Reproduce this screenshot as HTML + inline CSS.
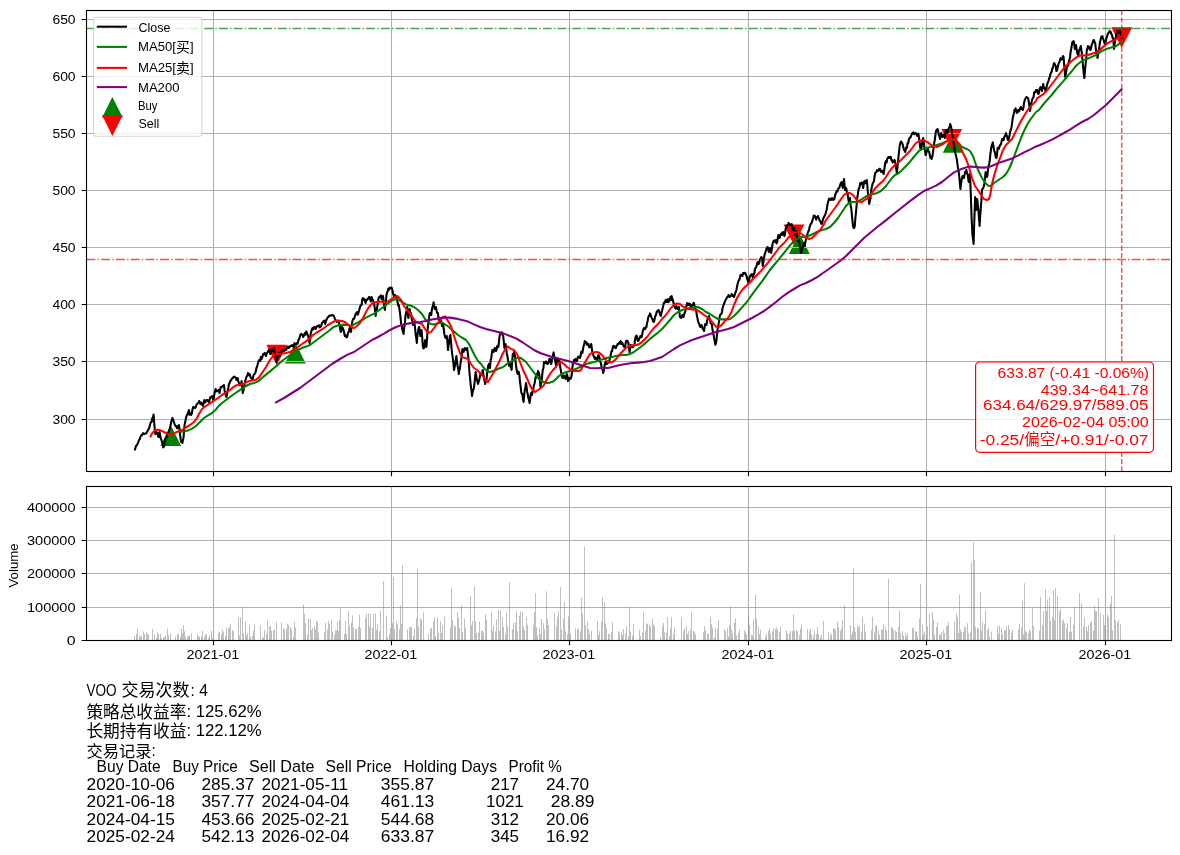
<!DOCTYPE html><html><head><meta charset="utf-8"><title>VOO</title><style>html,body{margin:0;padding:0;background:#fff}body{width:1180px;height:855px;overflow:hidden;font-family:"Liberation Sans", sans-serif}</style></head><body><svg width="1180" height="855" viewBox="0 0 1180 855" style="display:block;will-change:transform">
<rect width="1180" height="855" fill="#fff"/>
<defs><clipPath id="c1"><rect x="86.5" y="10.5" width="1085.0" height="461.0"/></clipPath><clipPath id="c2"><rect x="86.5" y="486.5" width="1085.0" height="154.0"/></clipPath></defs>
<g clip-path="url(#c1)"><path d="M170.81 425.32L181.21 446.12H160.41z" fill="#008000"/><path d="M295.35 342.61L305.75 363.41H284.95z" fill="#008000"/><path d="M799.38 233.08L809.78 253.88H788.98z" fill="#008000"/><path d="M953.23 132.02L963.63 152.82H942.83z" fill="#008000"/><path d="M276.79 365.58L287.19 344.78H266.39z" fill="#ff0000"/><path d="M794.01 245.35L804.41 224.55H783.61z" fill="#ff0000"/><path d="M951.76 149.91L962.16 129.11H941.36z" fill="#ff0000"/><path d="M1121.72 48.03L1132.12 27.23H1111.32z" fill="#ff0000"/></g>
<path d="M213.5 10.5V471.5M391.5 10.5V471.5M569.5 10.5V471.5M748.5 10.5V471.5M926.5 10.5V471.5M1105.5 10.5V471.5M86.5 419.5H1171.5M86.5 361.5H1171.5M86.5 304.5H1171.5M86.5 247.5H1171.5M86.5 190.5H1171.5M86.5 133.5H1171.5M86.5 76.5H1171.5M86.5 19.5H1171.5" stroke="#b0b0b0" stroke-width="1.11" fill="none"/>
<path d="M213.5 486.5V640.5M391.5 486.5V640.5M569.5 486.5V640.5M748.5 486.5V640.5M926.5 486.5V640.5M1105.5 486.5V640.5M86.5 640.5H1171.5M86.5 607.5H1171.5M86.5 573.5H1171.5M86.5 540.5H1171.5M86.5 507.5H1171.5" stroke="#b0b0b0" stroke-width="1.11" fill="none"/>
<g clip-path="url(#c2)"><path d="M134 640.5v-4.85h1v4.85zM136 640.5v-6.85h1v6.85zM137 640.5v-12.32h1v12.32zM139 640.5v-4.73h1v4.73zM140 640.5v-3.58h1v3.58zM141 640.5v-4.95h1v4.95zM143 640.5v-8.98h1v8.98zM144 640.5v-6.59h1v6.59zM146 640.5v-8.68h1v8.68zM147 640.5v-6.09h1v6.09zM148 640.5v-6.5h1v6.5zM152 640.5v-11.65h1v11.65zM154 640.5v-5.92h1v5.92zM156 640.5v-2.57h1v2.57zM157 640.5v-8h1v8zM158 640.5v-6.84h1v6.84zM160 640.5v-6.82h1v6.82zM161 640.5v-2.54h1v2.54zM163 640.5v-2.48h1v2.48zM164 640.5v-3.65h1v3.65zM165 640.5v-4.41h1v4.41zM167 640.5v-11.99h1v11.99zM168 640.5v-5.33h1v5.33zM170 640.5v-6.88h1v6.88zM175 640.5v-4.08h1v4.08zM177 640.5v-6.26h1v6.26zM178 640.5v-6.5h1v6.5zM180 640.5v-4.04h1v4.04zM181 640.5v-11.8h1v11.8zM182 640.5v-7h1v7zM183 640.5v-15.32h1v15.32zM184 640.5v-9.33h1v9.33zM185 640.5v-4.12h1v4.12zM187 640.5v-3.9h1v3.9zM188 640.5v-4.66h1v4.66zM189 640.5v-5.19h1v5.19zM191 640.5v-7.24h1v7.24zM197 640.5v-6.09h1v6.09zM198 640.5v-4.45h1v4.45zM199 640.5v-3.54h1v3.54zM201 640.5v-4.31h1v4.31zM202 640.5v-9.43h1v9.43zM204 640.5v-3.79h1v3.79zM205 640.5v-6.08h1v6.08zM206 640.5v-6.6h1v6.6zM208 640.5v-2.79h1v2.79zM209 640.5v-5.57h1v5.57zM211 640.5v-9.8h1v9.8zM212 640.5v-2.2h1v2.2zM218 640.5v-7.69h1v7.69zM219 640.5v-8.47h1v8.47zM221 640.5v-6.15h1v6.15zM222 640.5v-11.11h1v11.11zM223 640.5v-8.64h1v8.64zM225 640.5v-4.6h1v4.6zM226 640.5v-12.9h1v12.9zM228 640.5v-12.01h1v12.01zM229 640.5v-13.6h1v13.6zM230 640.5v-16.99h1v16.99zM232 640.5v-10.46h1v10.46zM233 640.5v-9.38h1v9.38zM238 640.5v-22.98h1v22.98zM239 640.5v-4.95h1v4.95zM240 640.5v-23.31h1v23.31zM242 640.5v-33.3h1v33.3zM243 640.5v-7.25h1v7.25zM245 640.5v-18.98h1v18.98zM246 640.5v-5.75h1v5.75zM247 640.5v-7h1v7zM249 640.5v-15.87h1v15.87zM250 640.5v-3.56h1v3.56zM252 640.5v-4.61h1v4.61zM253 640.5v-9.9h1v9.9zM254 640.5v-17.01h1v17.01zM260 640.5v-15.32h1v15.32zM262 640.5v-3.78h1v3.78zM263 640.5v-2.86h1v2.86zM264 640.5v-10.44h1v10.44zM266 640.5v-6.38h1v6.38zM267 640.5v-20.31h1v20.31zM269 640.5v-13.79h1v13.79zM270 640.5v-14.59h1v14.59zM271 640.5v-9.54h1v9.54zM273 640.5v-9.92h1v9.92zM274 640.5v-10.8h1v10.8zM276 640.5v-18.65h1v18.65zM281 640.5v-18.2h1v18.2zM283 640.5v-11.74h1v11.74zM284 640.5v-11.22h1v11.22zM286 640.5v-11.37h1v11.37zM287 640.5v-16.65h1v16.65zM288 640.5v-15.82h1v15.82zM290 640.5v-13.66h1v13.66zM291 640.5v-11.28h1v11.28zM293 640.5v-3.66h1v3.66zM294 640.5v-18.65h1v18.65zM295 640.5v-12.98h1v12.98zM303 640.5v-35.96h1v35.96zM304 640.5v-26.64h1v26.64zM305 640.5v-17.23h1v17.23zM307 640.5v-6.04h1v6.04zM308 640.5v-21.64h1v21.64zM310 640.5v-21.64h1v21.64zM311 640.5v-10.18h1v10.18zM312 640.5v-12.61h1v12.61zM314 640.5v-14.59h1v14.59zM315 640.5v-11.5h1v11.5zM316 640.5v-19.65h1v19.65zM317 640.5v-18.24h1v18.24zM318 640.5v-8.09h1v8.09zM324 640.5v-9.04h1v9.04zM325 640.5v-17.4h1v17.4zM327 640.5v-11.02h1v11.02zM328 640.5v-19.65h1v19.65zM329 640.5v-16.67h1v16.67zM331 640.5v-21.06h1v21.06zM332 640.5v-8.92h1v8.92zM334 640.5v-5.85h1v5.85zM335 640.5v-10.25h1v10.25zM336 640.5v-10.18h1v10.18zM337 640.5v-18.65h1v18.65zM338 640.5v-9.52h1v9.52zM339 640.5v-20.49h1v20.49zM340 640.5v-32.3h1v32.3zM344 640.5v-6.86h1v6.86zM345 640.5v-19.21h1v19.21zM346 640.5v-6.15h1v6.15zM348 640.5v-29.3h1v29.3zM349 640.5v-14.47h1v14.47zM351 640.5v-18.1h1v18.1zM352 640.5v-24.97h1v24.97zM353 640.5v-12.72h1v12.72zM355 640.5v-11.61h1v11.61zM356 640.5v-11.66h1v11.66zM358 640.5v-14.11h1v14.11zM359 640.5v-25.64h1v25.64zM360 640.5v-12.34h1v12.34zM365 640.5v-22.31h1v22.31zM366 640.5v-26.64h1v26.64zM368 640.5v-27.31h1v27.31zM369 640.5v-14.05h1v14.05zM370 640.5v-26.57h1v26.57zM372 640.5v-12.61h1v12.61zM373 640.5v-26.64h1v26.64zM375 640.5v-27.31h1v27.31zM376 640.5v-10.83h1v10.83zM377 640.5v-16.51h1v16.51zM379 640.5v-9.36h1v9.36zM380 640.5v-29.3h1v29.3zM383 640.5v-59.27h1v59.27zM386 640.5v-24.9h1v24.9zM387 640.5v-3.43h1v3.43zM389 640.5v-6.57h1v6.57zM390 640.5v-12.15h1v12.15zM392 640.5v-17.14h1v17.14zM393 640.5v-63.27h1v63.27zM394 640.5v-11.8h1v11.8zM396 640.5v-19.24h1v19.24zM397 640.5v-16.27h1v16.27zM399 640.5v-11.33h1v11.33zM400 640.5v-34.96h1v34.96zM401 640.5v-16.81h1v16.81zM402 640.5v-75.26h1v75.26zM407 640.5v-11.17h1v11.17zM409 640.5v-13.7h1v13.7zM410 640.5v-12.95h1v12.95zM411 640.5v-13.93h1v13.93zM413 640.5v-4.2h1v4.2zM414 640.5v-11.51h1v11.51zM416 640.5v-22.56h1v22.56zM417 640.5v-71.26h1v71.26zM418 640.5v-13.91h1v13.91zM420 640.5v-22.01h1v22.01zM421 640.5v-21.07h1v21.07zM423 640.5v-28.03h1v28.03zM428 640.5v-6.66h1v6.66zM430 640.5v-12.22h1v12.22zM431 640.5v-12.29h1v12.29zM433 640.5v-18.97h1v18.97zM434 640.5v-23.42h1v23.42zM435 640.5v-4.29h1v4.29zM437 640.5v-23.39h1v23.39zM438 640.5v-7.47h1v7.47zM440 640.5v-19.49h1v19.49zM441 640.5v-7.32h1v7.32zM442 640.5v-15.51h1v15.51zM444 640.5v-24.53h1v24.53zM450 640.5v-13.4h1v13.4zM451 640.5v-52.95h1v52.95zM452 640.5v-20.51h1v20.51zM454 640.5v-15.27h1v15.27zM455 640.5v-13.77h1v13.77zM457 640.5v-28.57h1v28.57zM458 640.5v-22.97h1v22.97zM459 640.5v-12.56h1v12.56zM461 640.5v-34.96h1v34.96zM462 640.5v-8.55h1v8.55zM464 640.5v-21.63h1v21.63zM465 640.5v-12.72h1v12.72zM470 640.5v-44.62h1v44.62zM471 640.5v-15.21h1v15.21zM472 640.5v-19.68h1v19.68zM474 640.5v-53.95h1v53.95zM475 640.5v-19.1h1v19.1zM476 640.5v-7.21h1v7.21zM478 640.5v-7.27h1v7.27zM479 640.5v-18.9h1v18.9zM481 640.5v-9.66h1v9.66zM482 640.5v-9.39h1v9.39zM483 640.5v-7.69h1v7.69zM485 640.5v-26.35h1v26.35zM486 640.5v-20.85h1v20.85zM491 640.5v-28.92h1v28.92zM492 640.5v-9.77h1v9.77zM493 640.5v-14.91h1v14.91zM495 640.5v-8.92h1v8.92zM496 640.5v-21.04h1v21.04zM498 640.5v-30.47h1v30.47zM499 640.5v-9.98h1v9.98zM500 640.5v-30.08h1v30.08zM502 640.5v-23.25h1v23.25zM503 640.5v-13.76h1v13.76zM505 640.5v-6.14h1v6.14zM506 640.5v-28.07h1v28.07zM507 640.5v-14.27h1v14.27zM509 640.5v-58.27h1v58.27zM512 640.5v-11.36h1v11.36zM513 640.5v-17.84h1v17.84zM515 640.5v-17.92h1v17.92zM516 640.5v-29.25h1v29.25zM517 640.5v-9.42h1v9.42zM519 640.5v-24.85h1v24.85zM520 640.5v-29.11h1v29.11zM522 640.5v-28.65h1v28.65zM523 640.5v-13.74h1v13.74zM524 640.5v-10.66h1v10.66zM526 640.5v-23.57h1v23.57zM527 640.5v-15.7h1v15.7zM533 640.5v-15.76h1v15.76zM534 640.5v-28.29h1v28.29zM535 640.5v-47.29h1v47.29zM536 640.5v-13.24h1v13.24zM537 640.5v-5.3h1v5.3zM539 640.5v-12.52h1v12.52zM540 640.5v-6.47h1v6.47zM541 640.5v-21.54h1v21.54zM543 640.5v-17.19h1v17.19zM544 640.5v-11.32h1v11.32zM546 640.5v-49.28h1v49.28zM547 640.5v-21.68h1v21.68zM548 640.5v-15.44h1v15.44zM554 640.5v-27.07h1v27.07zM556 640.5v-14.5h1v14.5zM557 640.5v-23.8h1v23.8zM558 640.5v-29.16h1v29.16zM560 640.5v-53.28h1v53.28zM561 640.5v-11.02h1v11.02zM563 640.5v-22.14h1v22.14zM564 640.5v-37.96h1v37.96zM565 640.5v-9.15h1v9.15zM567 640.5v-6.16h1v6.16zM568 640.5v-24.11h1v24.11zM570 640.5v-6.91h1v6.91zM575 640.5v-11.97h1v11.97zM577 640.5v-11.04h1v11.04zM578 640.5v-11.88h1v11.88zM580 640.5v-9.22h1v9.22zM581 640.5v-42.96h1v42.96zM582 640.5v-26.95h1v26.95zM584 640.5v-94.24h1v94.24zM585 640.5v-15.29h1v15.29zM587 640.5v-18.88h1v18.88zM588 640.5v-11.01h1v11.01zM589 640.5v-6.83h1v6.83zM591 640.5v-9.38h1v9.38zM597 640.5v-19.51h1v19.51zM598 640.5v-5.74h1v5.74zM599 640.5v-9.2h1v9.2zM601 640.5v-18.94h1v18.94zM602 640.5v-43.29h1v43.29zM604 640.5v-38.63h1v38.63zM605 640.5v-17.29h1v17.29zM606 640.5v-12.97h1v12.97zM608 640.5v-7.08h1v7.08zM609 640.5v-5.96h1v5.96zM611 640.5v-9.03h1v9.03zM612 640.5v-18.23h1v18.23zM618 640.5v-9.33h1v9.33zM619 640.5v-8.02h1v8.02zM621 640.5v-8.51h1v8.51zM622 640.5v-6.04h1v6.04zM623 640.5v-11.42h1v11.42zM625 640.5v-7.08h1v7.08zM626 640.5v-14.18h1v14.18zM628 640.5v-4.16h1v4.16zM629 640.5v-32.63h1v32.63zM630 640.5v-9.02h1v9.02zM632 640.5v-5.02h1v5.02zM633 640.5v-16.68h1v16.68zM639 640.5v-10.63h1v10.63zM640 640.5v-4.41h1v4.41zM642 640.5v-8.12h1v8.12zM643 640.5v-28.3h1v28.3zM645 640.5v-9.79h1v9.79zM646 640.5v-17.1h1v17.1zM647 640.5v-16.85h1v16.85zM649 640.5v-16.25h1v16.25zM650 640.5v-13.94h1v13.94zM652 640.5v-21.94h1v21.94zM653 640.5v-16.2h1v16.2zM654 640.5v-14.75h1v14.75zM660 640.5v-3.82h1v3.82zM662 640.5v-14.59h1v14.59zM663 640.5v-17.57h1v17.57zM664 640.5v-8.53h1v8.53zM666 640.5v-7.89h1v7.89zM667 640.5v-23.33h1v23.33zM669 640.5v-4.42h1v4.42zM670 640.5v-12.03h1v12.03zM671 640.5v-23.78h1v23.78zM673 640.5v-6.42h1v6.42zM674 640.5v-13.29h1v13.29zM681 640.5v-22.77h1v22.77zM683 640.5v-9.23h1v9.23zM684 640.5v-12.54h1v12.54zM686 640.5v-14.63h1v14.63zM687 640.5v-6.48h1v6.48zM688 640.5v-9.36h1v9.36zM690 640.5v-11.12h1v11.12zM691 640.5v-28.3h1v28.3zM693 640.5v-9.59h1v9.59zM694 640.5v-8.92h1v8.92zM695 640.5v-6.17h1v6.17zM703 640.5v-8.29h1v8.29zM704 640.5v-14.56h1v14.56zM705 640.5v-10.2h1v10.2zM707 640.5v-6.64h1v6.64zM708 640.5v-6.67h1v6.67zM710 640.5v-23.78h1v23.78zM711 640.5v-16.28h1v16.28zM712 640.5v-12.98h1v12.98zM714 640.5v-3.03h1v3.03zM715 640.5v-12.89h1v12.89zM717 640.5v-12.1h1v12.1zM718 640.5v-20.79h1v20.79zM724 640.5v-11.81h1v11.81zM725 640.5v-9.45h1v9.45zM727 640.5v-12.33h1v12.33zM728 640.5v-4.06h1v4.06zM729 640.5v-15.51h1v15.51zM730 640.5v-33.97h1v33.97zM731 640.5v-11.28h1v11.28zM732 640.5v-7.11h1v7.11zM734 640.5v-17.69h1v17.69zM735 640.5v-22h1v22zM736 640.5v-5.18h1v5.18zM738 640.5v-7.22h1v7.22zM739 640.5v-11.11h1v11.11zM744 640.5v-10.58h1v10.58zM745 640.5v-8.15h1v8.15zM746 640.5v-6.29h1v6.29zM748 640.5v-23.78h1v23.78zM749 640.5v-15.54h1v15.54zM751 640.5v-5.69h1v5.69zM752 640.5v-5.32h1v5.32zM753 640.5v-20.97h1v20.97zM755 640.5v-45.62h1v45.62zM756 640.5v-22.11h1v22.11zM758 640.5v-14.03h1v14.03zM759 640.5v-6.58h1v6.58zM760 640.5v-10.96h1v10.96zM765 640.5v-3.69h1v3.69zM766 640.5v-6.96h1v6.96zM768 640.5v-9.49h1v9.49zM769 640.5v-12.33h1v12.33zM770 640.5v-7.02h1v7.02zM772 640.5v-9.22h1v9.22zM773 640.5v-11.98h1v11.98zM775 640.5v-11.55h1v11.55zM776 640.5v-12.99h1v12.99zM777 640.5v-10.71h1v10.71zM779 640.5v-8.42h1v8.42zM780 640.5v-13.9h1v13.9zM786 640.5v-9.96h1v9.96zM787 640.5v-6.72h1v6.72zM789 640.5v-7.35h1v7.35zM790 640.5v-9.74h1v9.74zM792 640.5v-9.28h1v9.28zM793 640.5v-26.31h1v26.31zM794 640.5v-9.74h1v9.74zM796 640.5v-10.55h1v10.55zM797 640.5v-9.17h1v9.17zM799 640.5v-5.53h1v5.53zM800 640.5v-11.78h1v11.78zM801 640.5v-15.66h1v15.66zM807 640.5v-11.85h1v11.85zM809 640.5v-8.95h1v8.95zM810 640.5v-11.91h1v11.91zM811 640.5v-6.31h1v6.31zM813 640.5v-4.15h1v4.15zM814 640.5v-10.01h1v10.01zM816 640.5v-6.41h1v6.41zM817 640.5v-13.59h1v13.59zM818 640.5v-5.98h1v5.98zM820 640.5v-2.99h1v2.99zM821 640.5v-6.1h1v6.1zM823 640.5v-19.82h1v19.82zM828 640.5v-8.21h1v8.21zM830 640.5v-5.26h1v5.26zM831 640.5v-6.91h1v6.91zM833 640.5v-12.32h1v12.32zM834 640.5v-12.19h1v12.19zM835 640.5v-10.55h1v10.55zM837 640.5v-19h1v19zM838 640.5v-13.39h1v13.39zM840 640.5v-9.65h1v9.65zM841 640.5v-12.75h1v12.75zM842 640.5v-20.52h1v20.52zM844 640.5v-35.3h1v35.3zM850 640.5v-15.45h1v15.45zM851 640.5v-5.99h1v5.99zM852 640.5v-9.12h1v9.12zM853 640.5v-72.59h1v72.59zM854 640.5v-13.53h1v13.53zM855 640.5v-8.53h1v8.53zM857 640.5v-15.76h1v15.76zM858 640.5v-12.74h1v12.74zM859 640.5v-14.66h1v14.66zM861 640.5v-8.86h1v8.86zM862 640.5v-23.78h1v23.78zM864 640.5v-17.03h1v17.03zM865 640.5v-8.84h1v8.84zM871 640.5v-10.15h1v10.15zM872 640.5v-23.78h1v23.78zM874 640.5v-8.35h1v8.35zM875 640.5v-14.44h1v14.44zM876 640.5v-15.15h1v15.15zM878 640.5v-9.77h1v9.77zM879 640.5v-5.76h1v5.76zM881 640.5v-10.6h1v10.6zM882 640.5v-11.46h1v11.46zM883 640.5v-16.2h1v16.2zM885 640.5v-13.86h1v13.86zM886 640.5v-9.85h1v9.85zM888 640.5v-61.6h1v61.6zM891 640.5v-14.31h1v14.31zM892 640.5v-12.42h1v12.42zM893 640.5v-10.69h1v10.69zM895 640.5v-9.99h1v9.99zM896 640.5v-8.73h1v8.73zM898 640.5v-13.27h1v13.27zM899 640.5v-30.3h1v30.3zM900 640.5v-7.34h1v7.34zM902 640.5v-9.77h1v9.77zM903 640.5v-5.04h1v5.04zM905 640.5v-8.01h1v8.01zM906 640.5v-3.95h1v3.95zM907 640.5v-7.17h1v7.17zM912 640.5v-12.59h1v12.59zM913 640.5v-12.57h1v12.57zM915 640.5v-9.51h1v9.51zM916 640.5v-8.78h1v8.78zM917 640.5v-5.15h1v5.15zM919 640.5v-22.18h1v22.18zM920 640.5v-56.28h1v56.28zM922 640.5v-15.94h1v15.94zM923 640.5v-6.55h1v6.55zM924 640.5v-8.97h1v8.97zM926 640.5v-4.3h1v4.3zM927 640.5v-13.85h1v13.85zM929 640.5v-26.31h1v26.31zM932 640.5v-28.3h1v28.3zM933 640.5v-20.96h1v20.96zM934 640.5v-5.86h1v5.86zM936 640.5v-13.44h1v13.44zM937 640.5v-18.27h1v18.27zM939 640.5v-6.23h1v6.23zM940 640.5v-6.05h1v6.05zM941 640.5v-8.52h1v8.52zM943 640.5v-10.37h1v10.37zM944 640.5v-7.32h1v7.32zM946 640.5v-13.95h1v13.95zM947 640.5v-15.39h1v15.39zM948 640.5v-18.3h1v18.3zM954 640.5v-18.87h1v18.87zM956 640.5v-27.05h1v27.05zM957 640.5v-23.23h1v23.23zM958 640.5v-7.62h1v7.62zM959 640.5v-46.29h1v46.29zM960 640.5v-10.96h1v10.96zM961 640.5v-8.54h1v8.54zM963 640.5v-8.47h1v8.47zM964 640.5v-13.26h1v13.26zM965 640.5v-13.79h1v13.79zM967 640.5v-17.15h1v17.15zM968 640.5v-6.74h1v6.74zM970 640.5v-7.88h1v7.88zM971 640.5v-78.25h1v78.25zM973 640.5v-98.23h1v98.23zM974 640.5v-80.25h1v80.25zM975 640.5v-13.62h1v13.62zM977 640.5v-12.58h1v12.58zM978 640.5v-11.96h1v11.96zM980 640.5v-48.62h1v48.62zM981 640.5v-9.77h1v9.77zM982 640.5v-18.86h1v18.86zM984 640.5v-16.14h1v16.14zM985 640.5v-30.3h1v30.3zM987 640.5v-10.17h1v10.17zM988 640.5v-12.72h1v12.72zM989 640.5v-4.04h1v4.04zM991 640.5v-8.85h1v8.85zM997 640.5v-13.99h1v13.99zM998 640.5v-6.99h1v6.99zM999 640.5v-15.05h1v15.05zM1001 640.5v-12.25h1v12.25zM1002 640.5v-6.17h1v6.17zM1004 640.5v-10.24h1v10.24zM1005 640.5v-9.95h1v9.95zM1006 640.5v-14.1h1v14.1zM1008 640.5v-15.1h1v15.1zM1009 640.5v-11.28h1v11.28zM1011 640.5v-7.82h1v7.82zM1012 640.5v-10.74h1v10.74zM1018 640.5v-11.13h1v11.13zM1019 640.5v-15.96h1v15.96zM1021 640.5v-13.09h1v13.09zM1022 640.5v-40.29h1v40.29zM1023 640.5v-6.23h1v6.23zM1024 640.5v-57.28h1v57.28zM1025 640.5v-9.69h1v9.69zM1026 640.5v-8.22h1v8.22zM1028 640.5v-6.95h1v6.95zM1029 640.5v-10.88h1v10.88zM1030 640.5v-9.19h1v9.19zM1032 640.5v-32.63h1v32.63zM1033 640.5v-14.51h1v14.51zM1039 640.5v-9.52h1v9.52zM1040 640.5v-43.36h1v43.36zM1042 640.5v-15.38h1v15.38zM1043 640.5v-29.17h1v29.17zM1045 640.5v-51.28h1v51.28zM1046 640.5v-29.36h1v29.36zM1047 640.5v-40.96h1v40.96zM1049 640.5v-43.29h1v43.29zM1050 640.5v-19.86h1v19.86zM1052 640.5v-23.3h1v23.3zM1053 640.5v-50.28h1v50.28zM1054 640.5v-20.55h1v20.55zM1055 640.5v-52.28h1v52.28zM1057 640.5v-44.62h1v44.62zM1059 640.5v-29.3h1v29.3zM1060 640.5v-31.61h1v31.61zM1062 640.5v-19.42h1v19.42zM1063 640.5v-21.07h1v21.07zM1064 640.5v-17.31h1v17.31zM1066 640.5v-12.82h1v12.82zM1067 640.5v-17.3h1v17.3zM1069 640.5v-8.47h1v8.47zM1070 640.5v-23.41h1v23.41zM1071 640.5v-8.7h1v8.7zM1073 640.5v-15.39h1v15.39zM1074 640.5v-33.57h1v33.57zM1079 640.5v-47.29h1v47.29zM1081 640.5v-37.3h1v37.3zM1083 640.5v-13.88h1v13.88zM1084 640.5v-23.22h1v23.22zM1086 640.5v-13.92h1v13.92zM1087 640.5v-9.57h1v9.57zM1088 640.5v-15.45h1v15.45zM1090 640.5v-17.88h1v17.88zM1091 640.5v-18.94h1v18.94zM1093 640.5v-9.72h1v9.72zM1094 640.5v-34.63h1v34.63zM1095 640.5v-29.13h1v29.13zM1096 640.5v-29.3h1v29.3zM1098 640.5v-42.29h1v42.29zM1100 640.5v-27.31h1v27.31zM1103 640.5v-25.97h1v25.97zM1104 640.5v-15.53h1v15.53zM1105 640.5v-11.34h1v11.34zM1107 640.5v-26h1v26zM1108 640.5v-23.31h1v23.31zM1110 640.5v-36.96h1v36.96zM1111 640.5v-44.62h1v44.62zM1112 640.5v-10.07h1v10.07zM1114 640.5v-105.56h1v105.56zM1115 640.5v-20.31h1v20.31zM1117 640.5v-17.98h1v17.98zM1118 640.5v-20.65h1v20.65zM1120 640.5v-16.65h1v16.65zM1121 640.5v-0.67h1v0.67z" fill="#808080" fill-opacity="0.5"/></g>
<g clip-path="url(#c1)"><path d="M135 449.4L136 445.98L137 445L138 442.88L139 440L139.7 439.49L140.4 437L141.2 435.49L142 435L143 433.17L144 434L145 433.63L146 433.4L147 432.18L148 430L149 428.6L150 425L150.8 422.28L151.6 422L152.3 418.21L153 417L153.6 414.6L154.4 425L155.2 434L155.8 433.71L156.4 432L157 432.97L157.6 433L158.1 436.53L158.6 437L159.1 435.48L159.6 432L160.1 434.9L160.6 438L161.5 440.23L162.4 443L163.2 447.37L164 446.6L164.6 443.01L165.2 440L165.9 437.72L166.6 437L167.3 433.86L168 433L168.8 431.1L169.6 429L170.3 426.15L171 423L171.7 420.16L172.4 418L173 419.44L173.6 421L174.3 423.27L175 425L175.7 426.19L176.4 426L177 428.1L177.6 428L178.2 426.71L178.8 425L179.4 427.71L180 434L180.6 438.7L181.2 442L181.8 441.08L182.4 443L183 439.83L183.6 437L184.1 429.53L184.6 425L185.3 421.5L186 418L186.8 415.22L187.6 414L188.3 412.21L189 410L189.5 414.8L190 413L190.6 413.95L191.2 415L191.8 413.34L192.4 410L193 407.18L193.6 407L194.3 407.21L195 408L195.7 407.16L196.4 405L197.2 403.91L198 403L198.6 402.37L199.2 401L199.8 402.6L200.4 404L201 402.49L201.6 403L202.3 405.06L203 406L203.7 402.19L204.4 400L205.2 402.37L206 401L206.8 399.99L207.6 400L208.3 401.69L209 402L209.7 399.5L210.4 397L211.2 397.45L212 396L212.6 397.4L213.2 400L213.8 398L214.4 394L215 391.38L215.6 389L216.3 391.26L217 391L217.7 391.12L218.4 390L219 391.64L219.6 393L220.2 389.22L220.8 387L221.6 387.27L222.4 386L223.2 385.97L224 385L224.6 390.64L225.2 393L225.8 394.62L226.4 397L227 394.55L227.6 391L228.3 388.01L229 384L229.7 382.78L230.4 381L231.2 380.01L232 378.6L232.8 377.98L233.6 377L234.4 376.6L235.2 377.4L235.8 377.69L236.4 380L237 378.6L237.6 378L238.3 381.09L239 383L239.7 385.51L240.4 385L241 383.98L241.6 381L242.2 388.05L242.8 393L243.4 390.78L244 387L244.6 384.7L245.2 381L245.8 379.18L246.4 377L247.2 375.77L248 373L248.8 375.27L249.6 374L250.2 375.67L250.8 378L251.4 377.81L252 379L252.8 378.96L253.6 375L254.4 374.24L255.2 373L255.8 371.47L256.4 368L257.2 366.37L258 363L258.8 360.36L259.6 360L260.2 360.93L260.8 357L261.4 359.28L262 358L262.6 356.18L263.2 354L263.9 354.25L264.6 353L265.3 354.63L266 356L266.8 353.12L267.6 352L268.3 350.89L269 350L269.7 352.37L270.4 354L271 352.62L271.6 349L272.3 350.71L273 351L273.5 349.56L274 348L274.6 352.35L275.2 354L275.8 357.24L276.4 362L277 360.29L277.6 357L278.2 356.11L278.8 353L279.4 354.21L280 356L280.6 352.21L281.2 352L281.8 350.09L282.4 350L283.2 350.74L284 351L284.8 350.53L285.6 349L286.4 349.55L287.2 347L288 346.5L288.8 348L289.6 347L290.4 346L291.2 346.15L292 345L292.8 345.84L293.6 347L294.4 343.13L295.2 344L296 344.31L296.8 343L297.6 343.81L298.4 340L299.2 339L300 336L300.8 334.08L301.6 334L302.4 335.09L303.2 337L304 335.22L304.8 333L305.6 334.69L306.4 331.4L307.2 333.82L308 335L308.8 339.11L309.6 343L310.2 339.56L310.8 333L311.6 330.42L312.4 328L313.2 329.36L314 327L314.8 327.31L315.6 329L316.4 327.03L317.2 326L318 326.22L318.8 325L319.6 327.42L320.4 327L321.2 325.65L322 323L322.8 322.3L323.6 321L324.4 320.68L325.2 324L326 320.79L326.8 319L327.6 317.39L328.4 317L329.2 315.67L330 315.4L331 315.79L332 315L333 315.16L334 316L334.8 318.79L335.6 320L336.3 321.08L337 322L337.7 321.17L338.4 321L339 323.12L339.6 325L340.2 328.93L340.8 332L341.4 330.36L342 327L342.6 327.52L343.2 329L344 332.27L344.8 336L345.6 335.34L346.4 337.4L347.2 336.8L348 333L348.8 331.95L349.6 328L350.3 329.82L351 332L351.7 326.02L352.4 321L353.2 318.76L354 319L354.8 316.67L355.6 314L356.3 313.21L357 312L357.7 314.68L358.4 313L359.2 310.25L360 307L360.8 305.22L361.6 305L362.3 299.06L363 298L363.7 299.91L364.4 299L365 301.19L365.6 303L366.3 299.89L367 300L367.7 299.18L368.4 298L369.2 296.89L370 299L370.8 301.48L371.6 297L372.3 299.62L373 300L373.7 303.07L374.4 305L375 310.32L375.6 316L376.2 310.86L376.8 310L377.4 305.87L378 302L378.6 297.95L379.2 297L379.8 297.1L380.4 296L381 295.36L381.6 299L382.3 296.59L383 296L383.5 301.22L384 304L384.5 308.64L385 310L385.5 303.82L386 300L386.6 294.47L387.2 292L387.8 291.08L388.4 288.4L389 289.55L389.6 289L390.2 287.51L390.8 288L391.4 287.51L392 288.4L392.5 290.51L393 294L393.5 294.31L394 297L394.6 295.32L395.2 295L395.8 296.75L396.4 296L397 299.69L397.6 302L398.2 305.56L398.8 305L399.4 308.91L400 313L400.6 318.36L401.2 324L401.8 326.02L402.4 330L403 331.88L403.6 334L404.2 327.69L404.8 324L405.4 316.72L406 313L406.6 310.7L407.2 307L407.8 313.94L408.4 318L409 314.34L409.6 309L410.2 312.33L410.8 313L411.4 316.75L412 320L412.6 321.78L413.2 325L413.8 323.59L414.4 322L415 327.63L415.6 334L416.2 337.39L416.8 343L417.4 335.81L418 332L418.6 328.02L419.2 327L419.8 331.49L420.4 336L421 333.15L421.6 330L422.2 337.53L422.8 346L423.4 348.43L424 348L424.6 344.18L425.2 340L425.8 344.08L426.4 347L427 339.72L427.6 330L428.2 324.18L428.8 320L429.4 314.53L430 313L430.6 314.75L431.2 315L431.8 310.31L432.4 307L433 306.01L433.6 302.4L434.2 306.04L434.8 309L435.4 309.01L436 307L436.6 310.76L437.2 313L437.8 312.92L438.4 317L439 320.72L439.6 323L440.2 320.33L440.8 319L441.4 321.74L442 326L442.6 324.56L443.2 324L443.8 329.77L444.4 334L445 336.88L445.6 338L446.2 338.01L446.8 336L447.4 341.34L448 350L448.6 345.41L449.2 342L449.8 336.12L450.4 335L451 341.9L451.6 349L452.2 354.1L452.8 358L453.4 363.24L454 370L454.6 367.24L455.2 364L455.8 360.23L456.4 356L457 362.01L457.6 366L458.2 369.18L458.8 374L459.4 370.17L460 368L460.6 362.74L461.2 359L461.8 355.75L462.4 349L463 351.59L463.6 352L464.2 349.88L464.8 348L465.4 349.23L466 350L466.6 349.11L467.2 348L467.8 353.2L468.4 358L469 365.79L469.6 374L470.2 379.67L470.8 386L471.4 389.74L472 396L472.6 392.36L473.2 390L473.8 388.65L474.4 384L475 378.54L475.6 372L476.2 375.56L476.8 379L477.4 381.29L478 384L478.6 382.06L479.2 380L479.8 377.35L480.4 374L481 373.85L481.6 375L482.2 372.7L482.8 370L483.4 374.74L484 379L484.6 380.75L485.2 384L485.8 381.71L486.4 381L487 374.5L487.6 370L488.2 365.94L488.8 364L489.4 366.89L490 368L490.6 360.64L491.2 358L491.8 353.73L492.4 350L493 350.39L493.6 352L494.2 349.38L494.8 348L495.4 349.6L496 351L496.6 349.63L497.2 346L497.8 346.58L498.4 347L499 341.36L499.6 336L500.2 333.89L500.8 333L501.4 332.57L502 332.4L502.6 335.11L503.2 336L503.8 341.61L504.4 348L505 344.85L505.6 344L506.2 347.74L506.8 354L507.4 355.89L508 360L508.6 361.61L509.2 366L509.8 366.1L510.4 364L511 367.36L511.6 370L512.2 361.76L512.8 354L513.4 354.46L514 352L514.6 354.34L515.2 358L515.8 363.75L516.4 368L517 371.8L517.6 374L518.2 371.45L518.8 372L519.4 375.44L520 382L520.6 386.07L521.2 392L521.8 393.91L522.4 394L523 399.3L523.6 402L524.2 394.77L524.8 390L525.4 387.55L526 383L526.6 387.12L527.2 392L527.8 394.61L528.4 398L529 399.95L529.6 403L530.2 398.18L530.8 394L531.4 392.68L532 395L532.6 391.5L533.2 390L533.8 385.76L534.4 384L535 380.99L535.6 377L536.2 377.59L536.8 374L537.4 375.23L538 371L538.6 372.16L539.2 374L539.8 378.78L540.4 387L541 384.09L541.6 382L542.2 375.06L542.8 370L543.4 367.98L544 362L544.6 363.07L545.2 363L545.8 361.57L546.4 361.6L547 363.74L547.6 364L548.2 363.54L548.8 362L549.4 358.87L550 359L550.6 360.97L551.2 364L551.8 360.76L552.4 358L553 355.22L553.6 352.4L554.2 355.83L554.8 359L555.4 361.66L556 365L556.6 361.69L557.2 358L557.8 359.41L558.4 362L559 360.6L559.6 361L560.2 367.02L560.8 370L561.4 373.86L562 377L562.6 377.94L563.2 378L563.8 375.41L564.4 376L565 377.33L565.6 379L566.2 377.32L566.8 374L567.4 376.21L568 381L568.6 380.6L569.2 378L569.8 378.11L570.4 379L571 377.9L571.6 376L572.2 369.87L572.8 364L573.4 362.22L574 360L574.6 360.7L575.2 359L575.8 359.6L576.4 361L577 361.06L577.6 358L578.2 356.72L578.8 357L579.4 356.57L580 358L580.6 355.71L581.2 352L581.8 351.43L582.4 353L583 349.13L583.6 346L584.2 344.41L584.8 341L585.4 343.21L586 343L586.6 342.23L587.2 345L587.8 345.01L588.4 344L589.2 347.38L590 347L590.6 346.69L591.2 344L591.8 348.26L592.4 353L593 353.9L593.6 356L594.2 357.2L594.8 359L595.4 357.35L596 358L596.6 358.74L597.2 360L597.8 357.31L598.4 355L599 356.35L599.6 358L600.2 361.68L600.8 363L601.4 365.77L602 369L602.6 369.54L603.2 373L603.8 371.05L604.4 367L605 363.43L605.6 362L606.2 362.55L606.8 364L607.4 363.37L608 363L608.6 362.16L609.2 362L609.8 358.5L610.4 357L611 353.75L611.6 351L612.2 351.18L612.8 347L613.4 345.89L614 346L614.6 346.86L615.2 348L615.8 348.12L616.4 346L617 345.74L617.6 344L618.2 344.26L618.8 343L619.4 343.36L620 342L620.6 341.03L621.2 344L621.8 342.64L622.4 343L623 344.63L623.6 346L624.2 347L624.8 347L625.4 345.29L626 341L626.6 341.27L627.2 340.6L627.8 341.56L628.4 343L629 347.54L629.6 352L630.2 348.29L630.8 345L631.4 345.75L632 346L632.6 347.17L633.2 347L633.8 345.66L634.4 345L635 340.19L635.6 337L636.2 335.65L636.8 336L637.4 339.6L638 341L638.6 340.78L639.2 338L639.8 337.99L640.4 336L641 337.36L641.6 337L642.2 334.83L642.8 331L643.4 329.5L644 328L644.6 329.16L645.2 329L645.8 326.95L646.4 327L647 323.8L647.6 321L648.2 317.77L648.8 316L649.4 315.43L650 313.4L650.6 314.62L651.2 317L651.8 317.89L652.4 319L653 320.9L653.6 322L654.2 321.35L654.8 318L655.4 315.71L656 315L656.6 312.06L657.2 311L657.8 311.32L658.4 310L659 310.39L659.6 313L660.2 314.95L660.8 316L661.4 312.93L662 311L662.6 308.39L663.2 306L663.8 302.68L664.4 303L665 302.21L665.6 300L666.2 300.5L666.8 302L667.4 299.6L668 299L668.6 302.08L669.2 301L669.8 299.71L670.4 297L671 300.01L671.6 296L672.2 298.41L672.8 300L673.4 302.15L674 305L674.6 306.61L675.2 308L675.8 308.61L676.4 306L677 307.47L677.6 309L678.2 308.45L678.8 307L679.4 312.52L680 317L680.6 316.59L681.2 318L681.8 316.63L682.4 315L683 315.5L683.6 317L684.2 313.75L684.8 313L685.4 310.87L686 307L686.6 305.67L687.2 303L687.8 304.07L688.4 305L689 303.59L689.6 304L690.2 303.99L690.8 308L691.4 307.49L692 306L692.6 304.9L693.2 304L693.8 302.82L694.4 305L695 306.94L695.6 309L696.2 310.48L696.8 315L697.4 317.97L698 321L698.6 322.64L699.2 324L699.8 325.85L700.4 327L701 326.22L701.6 325L702.2 327.17L702.8 329L703.4 328.86L704 331L704.6 327.12L705.2 324L705.8 323.99L706.4 325L707 321.76L707.6 319L708.2 317.77L708.8 316L709.4 318.12L710 319L710.6 323.14L711.2 324L711.8 323.93L712.4 329L713 332.4L713.6 335L714.2 338.3L714.8 342L715.4 344.78L716 343L716.6 338.93L717.2 333L717.8 327.35L718.4 325L719 321.4L719.6 317L720.2 314.98L720.8 314L721.4 313.99L722 312L722.6 307.94L723.2 306L723.8 304.4L724.4 303L725 301.37L725.6 300L726.2 298.9L726.8 298L727.4 296.72L728 296.6L728.6 294.96L729.2 297L729.8 296.96L730.4 296L731 296L731.6 294L732.2 294.93L732.8 296L733.4 295.48L734 297L734.6 295.2L735.2 293L735.8 292.07L736.4 290L737 286.82L737.6 284L738.2 281.99L738.8 280L739.4 279.91L740 277L740.6 274.88L741.2 275L741.8 274.94L742.4 276L743 273.09L743.6 274L744.2 272.8L744.8 273L745.4 273.26L746 275L746.6 276.04L747.2 279L747.8 280.31L748.4 283L749 281.8L749.6 277L750.2 275.8L750.8 275L751.4 274.39L752 274L752.6 277.2L753.2 276L753.8 274.44L754.4 273L755 268.77L755.6 268L756.2 266.9L756.8 265L757.4 262.56L758 262L758.6 264.14L759.2 263L759.8 259.75L760.4 259L761 257.42L761.6 257L762.2 259.89L762.8 266L763.4 262.1L764 258L764.6 254.48L765.2 253L765.8 250.93L766.4 249L767 247.62L767.6 247L768.2 248.89L768.8 252L769.4 250.94L770 248L770.6 251.44L771.2 253L771.8 249.06L772.4 245L773 242.1L773.6 241L774.2 240.43L774.8 242L775.4 241.27L776 240L776.6 243.39L777.2 242L777.8 238.04L778.4 235L779 235.72L779.6 238L780.2 235.3L780.8 234L781.4 233.4L782 235L782.6 232.53L783.2 232L783.8 233.79L784.4 236L785 233.93L785.6 229L786.2 227.5L786.8 226L787.4 224.99L788 225L788.6 222.89L789.2 224L789.8 224.71L790.4 225L791 224.47L791.6 224L792.2 225.77L792.8 230L793.4 227.91L794 228L794.6 231.46L795.2 235L795.8 234.01L796.4 231L797 236.63L797.6 241L798.2 239.71L798.8 238L799.4 242.68L800 248L800.6 250.82L801.2 253L801.8 249.99L802.4 247L803 247.17L803.6 243L804.2 243.37L804.8 246L805.4 242.13L806 239L806.6 238.27L807.2 235L807.8 232.73L808.4 231L809 230.42L809.6 227L810.2 225.46L810.8 224L811.4 223.15L812 222L812.6 219.63L813.2 218L813.8 215.62L814.4 216L815 216.03L815.6 218L816.2 219.72L816.8 217L817.4 217.15L818 216L818.6 218.11L819.2 219L819.8 220.95L820.4 221L821 223.07L821.6 224L822.2 223.02L822.8 220L823.4 218.23L824 217L824.6 215.78L825.2 215L826 212L826.6 209.98L827.2 206L827.8 203.15L828.4 201L829 198.67L829.6 199L830.2 199.27L830.8 200L831.4 198.46L832 198L832.6 199.61L833.2 200L833.8 198.78L834.4 199L835 195.44L835.6 194L836.2 192.17L836.8 191L837.4 191.55L838 189L838.6 188.45L839.2 188L839.8 186.16L840.4 184L841 183.01L841.6 182L842.2 185.3L842.8 188L843.4 184.43L844 179L844.6 185.9L845.2 190L845.8 187.86L846.4 189L847 192.86L847.6 194L848.2 198L848.8 202L849.4 199.68L850 198L850.6 205.4L851.2 208L851.8 213.83L852.4 220L853 225.94L853.6 228L854.2 227.97L854.8 226L855.4 217.97L856 212L856.6 205.49L857.2 198L857.8 194.74L858.4 190L859 188.37L859.6 187L860.2 183.17L860.8 184L861.4 182.86L862 182.4L862.6 185.01L863.2 188L863.8 183.39L864.4 181L865 183.33L865.6 182L866.2 180.76L866.8 180L867.4 186.61L868 194L868.6 198.7L869.2 204L869.8 200.72L870.4 199L871 192.72L871.6 188L872.2 185.59L872.8 183L873.4 182.31L874 181L874.6 176.49L875.2 173L875.8 172.41L876.4 172L877 170.11L877.6 171L878.2 171.02L878.8 170L879.4 168.75L880 169L880.6 170.71L881.2 172L881.8 170.59L882.4 171L883 171.98L883.6 174L884.2 170.22L884.8 166L885.4 162.29L886 161L886.6 162.47L887.2 159L887.8 157.96L888.4 157L889 157.43L889.6 158L890.2 156.77L890.8 157L891.4 160.09L892 160L892.6 162.39L893.2 162L893.8 161.3L894.4 160L895 161.13L895.6 165L896.2 168.5L896.8 173L897.4 168.12L898 162L898.6 155.49L899.2 150L899.8 145.32L900.4 143L901 141.51L901.6 142.4L902.2 142.93L902.8 145L903.4 147.51L904 150L904.6 150.35L905.2 152L905.8 149.52L906.4 147L907 147.79L907.6 143L908.2 143.27L908.8 140L909.4 137.96L910 138L910.6 137.14L911.2 135.6L911.8 134.39L912.4 133L913 132.56L913.6 132.4L914.2 134.24L914.8 134L915.4 133.17L916 133L916.6 134.17L917.2 136L917.8 134.43L918.4 133.6L919 137.7L919.6 142L920.2 147.29L920.8 150L921.4 147.78L922 144L922.6 139.66L923.2 138L923.8 142.56L924.4 148L925 150.7L925.6 155L926.2 153.82L926.8 151L927.4 150.22L928 149L928.6 151.39L929.2 152L929.8 154.94L930.4 158L931 156.59L931.6 159L932.2 156.95L932.8 154L933.4 149.23L934 144L934.6 141.01L935.2 137L935.8 132.2L936.4 130L937 129.58L937.6 129L938.2 131.31L938.8 135L939.4 136.31L940 139L940.6 136.35L941.2 133L941.8 135.35L942.4 137L943 135.11L943.6 135L944.2 134.79L944.8 138L945.4 131.53L946 130L946.6 130.92L947.2 133L947.8 132.12L948.4 129L949 127.94L949.6 127L950.2 124.05L950.8 125.6L951.4 128.44L952 133L952.6 135.92L953.2 138L953.8 144.67L954.4 148L955 152.17L955.6 154L956.2 156.87L956.8 159L957.4 163.7L958 168L958.6 170.94L959.2 176L959.8 182.05L960.4 189L961 184.17L961.6 180L962.2 177.23L962.8 176L963.4 177.06L964 178L964.6 174.61L965.2 172L965.8 171.34L966.4 170L967 173.43L967.6 174L968.2 178.74L968.8 182L969.4 178.42L970 174L970.8 194L971.6 218L972.4 234L973 238.76L973.6 244L974.4 218L975.2 197L975.8 201.98L976.4 210L977.2 199L977.8 204.39L978.4 210L979 218.54L979.6 226L980.2 215.99L980.8 208L981.4 200.25L982 190L982.6 188.67L983.2 188L983.8 186.37L984.4 184L985 177.67L985.6 172L986.2 173.24L986.8 177L987.4 175.57L988 170L988.6 165.84L989.2 164L989.8 159.92L990.4 154L991 149.44L991.6 146L992.2 144.48L992.8 142.4L993.4 145.39L994 150L994.6 151.58L995.2 154L995.8 156.92L996.4 158L997 154.95L997.6 148L998.2 147.65L998.8 149L999.4 147.01L1000 145L1000.6 144.95L1001.2 143L1001.8 140.37L1002.4 139L1003 140.21L1003.6 140L1004.2 137.22L1004.8 136L1005.4 135.1L1006 133L1006.6 135.44L1007.2 137L1007.8 139.71L1008.4 140L1009 137.86L1009.6 135L1010.2 131.31L1010.8 130L1011.4 127.66L1012 124L1012.6 118.9L1013.2 116L1013.8 113.75L1014.4 110L1015 110.71L1015.6 108.4L1016.2 111.3L1016.8 113L1017.4 110.95L1018 110L1018.6 111.69L1019.2 111L1019.8 109.47L1020.4 107.6L1021 107.05L1021.6 109L1022.2 109.15L1022.8 110L1023.4 107.92L1024 103L1024.6 100.7L1025.2 99L1025.8 98.12L1026.4 97L1027 97.16L1027.6 98L1028.2 98.31L1028.8 102L1029.4 105.99L1030 111L1030.6 107.36L1031.2 103L1031.8 101.21L1032.4 99L1033 97.83L1033.6 97L1034.2 92.37L1034.8 92L1035.4 92.22L1036 90L1036.6 90.72L1037.2 90L1037.8 93.02L1038.4 94L1039 92.8L1039.6 89L1040.2 87.56L1040.8 87L1041.4 88.4L1042 91L1042.6 87.81L1043.2 84L1043.8 87.67L1044.4 88L1045 88.31L1045.6 92L1046.2 88.77L1046.8 86L1047.4 83.28L1048 82L1048.6 80.56L1049.2 78L1049.8 77.46L1050.4 74L1051 72.7L1051.6 72L1052.2 68.76L1052.8 68L1053.4 65.55L1054 63L1054.6 63.71L1055.2 65L1055.8 66.46L1056.4 71L1057 70.38L1057.6 68L1058.2 64.98L1058.8 63L1059.4 62.18L1060 60L1060.6 58.18L1061.2 59L1061.8 59.6L1062.4 58L1063 56.06L1063.6 57L1064.4 68L1065.2 77L1065.8 74.55L1066.4 70L1067 66.19L1067.6 66L1068.2 65.38L1068.8 62L1069.4 59.63L1070 58L1070.6 51.94L1071.2 49L1071.8 45.27L1072.4 42L1073 41.84L1073.6 41L1074.2 44.01L1074.8 49L1075.4 46.51L1076 45L1076.6 49.27L1077.2 53L1077.8 54.33L1078.4 56L1079 49.93L1079.6 50L1080.2 47.57L1080.8 46L1081.4 50.43L1082 54L1082.6 61.3L1083.2 68L1083.8 74.01L1084.4 78L1085 70.31L1085.6 64L1086.2 59.55L1086.8 50L1087.4 48.8L1088 46L1088.6 46.81L1089.2 47L1089.8 49.59L1090.4 50L1091 48.45L1091.6 45L1092.2 43.6L1092.8 42L1093.4 40.38L1094 40L1094.6 42.52L1095.2 43L1095.8 48.42L1096.4 53L1097 53.61L1097.6 58L1098.2 52.9L1098.8 50L1099.4 46.47L1100 42L1100.6 39.61L1101.2 37L1101.8 36.78L1102.4 36L1103 38.64L1103.6 40L1104.2 42.15L1104.8 44L1105.4 43.58L1106 40L1106.6 37.41L1107.2 36L1107.8 34.1L1108.4 33L1109 32.32L1109.6 31L1110.2 32.25L1110.8 32L1111.4 34.29L1112 35L1112.6 37.99L1113.2 38L1114 49L1114.6 44.02L1115.2 40L1115.8 38.17L1116.4 34L1117 32.97L1117.6 31L1118.2 30.96L1118.8 33L1119.4 31.86L1120 31L1120.8 32.4L1121.6 37.92" stroke="#000" stroke-width="2.08" fill="none" stroke-linejoin="round" stroke-linecap="square"/><path d="M179 431.4L181 431.6L184 431.4L188 430.6L192 428.6L196 426L200 422L204 418L208 415.4L212 413L216 409.4L219 405.6L222 403L226 400L230 397L234 394L238 391.4L242 388.6L246 386L250 384L254 383L258 381.4L262 378L266 374.6L270 371.4L274 368L278 364.6L282 361L286 358L290 355L294 352L298 350L302 348L306 346.6L310 345L314 342L318 339L322 336L326 333L330 330L333 327.4L336 326L340 325L344 324.6L348 325L351 326L354 324.4L358 322.4L362 320L366 317.6L370 315.6L374 313.6L378 311L382 308L386 305L390 302L393 300L396 299L399 300L402 302L406 304.4L410 305.6L414 307L418 310L422 314L425 319L428 322.4L431 324L434 324.4L437 323.6L440 322.4L443 323L446 325L449 327L452 330L455 332.4L458 335L462 337.6L466 340L469 344L472 350L475 356L478 361L481 364L484 368L487 371L490 372L493 371L496 370L499 368.4L502 367.6L505 365.6L508 363L511 361.6L514 360L517 358L520 357.6L523 359.6L526 362L529 366L532 370L535 374L538 378L541 381L544 382L547 383L550 382.6L553 381.6L556 379L559 376L562 374L565 372.4L568 371.6L571 370.6L574 369.6L577 368.4L580 367L583 365.6L586 364L590 363L594 362L598 361L602 359.4L606 358L610 357.4L614 356.6L618 355.6L622 355L626 355L630 354L634 352L638 349L642 346L646 342.6L650 339L654 335.6L658 332.6L662 329L666 324.6L670 320L674 315L678 312L682 310L686 309L690 308L694 307.4L698 307L702 309L706 312L710 314L714 316.6L718 319L722 319.4L726 319.4L730 319L734 316L738 312L742 307.4L746 303L749 299L752 294.6L755 290.6L758 286.6L762 281.4L766 275.6L770 270L774 265L778 260.4L782 255.4L786 250.4L790 245.4L793 242.2L796 240L799 238L802 237L805 236.6L808 236L811 235L814 233.4L818 231.4L822 230L826 229L830 227L834 223L838 218L842 212L846 206L849 203L852 202L856 202L859 201L862 199L865 197L868 195.6L871 194.4L874 194L877 193L880 191.6L883 189L886 186L889 182L892 178L895 175L898 173.6L901 171L904 168L907 165L910 161.6L913 158L916 154.4L919 151L922 149L925 148L928 147.6L931 147L934 146L937 145L940 144L943 143L946 141.6L949 140L952 139.6L955 140.4L958 142.4L961 146L964 148L967 149L970 151L973 156L976 165L979 172L982 178L985 182.4L988 185.6L991 186L994 183L997 181L1000 179L1003 177L1006 174L1009 169L1012 162L1015 154L1018 146L1021 138L1024 131L1027 125L1030 120L1033 116L1036 112L1039 110L1042 106L1045 102.4L1048 99L1051 95.6L1054 92L1057 88.4L1060 85L1063 81.6L1066 78L1069 74.4L1072 71L1075 67L1078 64L1081 61.6L1084 60L1087 59L1090 57.6L1093 56.4L1096 55L1099 53L1102 51L1105 49.6L1108 48.4L1111 47.6L1114 47L1117 45.6L1120 43L1121.6 42.4" stroke="#008000" stroke-width="2.08" fill="none" stroke-linejoin="round" stroke-linecap="square"/><path d="M150.6 436.4L152.4 433L155 430.6L158 429.8L161 430.6L164 432L167.6 434L171 435L174 433.4L178 431.4L182 430L186 427.4L190 425L194 422L197 418L199 414L202 409L206 406L210 403.4L214 400.6L218 398L222 395L226 392.6L230 390L233 387.4L236 385.4L240 384.4L244 383.4L248 381.4L252 380.6L256 379.8L259 377.4L262 373L266 367L270 360L273 356L275 354.4L278 354L282 353.6L286 353L290 352L294 350L298 347L302 344L306 341.4L310 338L313 335L316 333L320 330.6L324 328L328 325L332 322.6L335 321L338 320.6L342 321L345 322L348 324.6L351 327L354 328L357 326L360 323L363 318L366 312L369 307L372 303.6L375 302.4L378 302L381 301.6L384 302.4L387 302L390 300L393 298L396 296L398 296.4L401 300L404 306L407 310L410 313L413 318L416 322L419 323L422 324L425 329L428 333L431 332L434 328L437 324L440 320L443 317L445 316.4L448 321L451 326L454 336L457 345L460 353L462 357L465 358L468 359L471 364L474 368L477 370L480 373L483 376L486 381L488 382L491 377L494 372L497 366L500 360L503 353L506 348L508 346.6L511 349L514 350L517 354L520 362L523 370L526 376L529 383L532 389L535 392L538 390L541 388L544 385L547 379L550 374L553 370L556 367L559 363L561 362L564 364L567 367L570 369L573 371L576 370.6L579 371L581 370L584 364L587 359L590 354L593 352.6L596 352L599 352.6L602 355L605 359L608 362L611 362.6L614 361L617 358L620 354L623 351L626 348L629 346L632 345.4L635 345L638 344.6L641 343L644 340L647 337L650 333L653 329L656 326L659 323L662 319L665 316L668 312L671 308L674 305L677 303.4L680 304L683 306.6L686 308L689 309L692 309.4L695 309.6L698 310.6L701 312.6L704 315L707 317L710 319L713 323L716 326.6L719 327L722 324.6L725 321L728 318L731 313L734 305L737 298L740 293L743 289L746 286L749 283.4L752 280L755 277L758 274L761 271L764 267.4L767 264L770 260L773 256L776 252L779 248L782 245L785 242L788 238L791 235L794 233L797 232L800 233L803 235L806 237.4L809 239L812 238L815 235L818 232L821 229L824 224L826 220L829 216L832 212L835 208L838 203.6L841 199L844 195L847 193L850 193L853 195L856 199L859 201.6L862 202L865 199.6L868 198L871 195L874 190L877 186.4L880 183.6L883 181L886 177L889 172L892 168L895 165L898 163L901 160L904 157L907 154L910 151L913 147L916 143L919 141L922 140.4L925 141L928 142.4L931 145L934 146.4L937 147L940 145.6L943 144L946 141.6L949 139.6L951 139L954 139.6L957 141.6L960 146L963 153L966 159L969 167L972 178L975 186L978 190L981 195L984 199L987 200L989 199L990.4 194L992 184L994 176L997 166L1000 158L1003 150L1006 145L1009 142L1012 139L1015 133L1018 127L1021 121L1024 116L1027 111L1030 107L1033 104L1036 101L1037 98.4L1040 96.4L1043 94.4L1046 91.6L1049 88L1052 84L1055 80L1058 76L1061 72L1064 68L1067 65L1070 62.4L1073 60L1076 57.6L1079 56L1082 55L1085 55.6L1088 55L1091 54L1094 53L1097 52L1100 50L1103 47L1106 44.4L1109 42.4L1112 41L1115 40L1118 37.6L1121.6 37" stroke="#ff0000" stroke-width="2.08" fill="none" stroke-linejoin="round" stroke-linecap="square"/><path d="M276 402.4L284 398L292 393L300 388L308 382L316 376L324 370L332 364L340 359L348 354.4L354 352L360 348L366 344L372 340L378 337L384 333.6L390 330L396 327L402 325L408 323.6L414 322.6L420 322L426 321L432 319.6L438 318.4L444 317.6L450 317.6L456 318.6L462 320L468 321.6L474 324.4L480 327L486 329L492 330.4L498 332L504 333.6L510 336L516 338.4L522 342L528 346L534 350L540 353L546 355L552 357L558 358.4L564 360L570 361.6L576 363.6L582 365.6L587 367L590 368L596 368.2L602 368L608 368L614 366.4L620 365L626 364L632 363L638 362.6L644 362L650 361L656 359L662 357L668 353L674 349L680 345.4L686 342.6L692 340L698 338L704 336L710 334L716 332L722 330.6L728 329L734 327L740 324L746 321L752 318L758 314.6L764 311L770 306.6L776 302L782 297L788 292.6L794 289L800 285.4L806 283L812 280L818 276.6L823 273L826 271L833 266L840 261L846 256L852 250L858 244L864 238L870 233L876 228L882 223.4L888 218.6L894 213.8L900 209L906 204.2L912 199.6L918 195.2L924 191L930 188.4L936 185.6L942 182L948 177L954 172.4L960 169.6L966 167.6L970 166.6L976 167L982 167.6L988 167.4L994 165L1000 162.4L1006 160.4L1012 158.4L1018 155.6L1024 152.4L1030 149.6L1036 146.4L1040 145L1046 142.4L1052 139.6L1058 136.4L1064 133L1070 129.6L1076 125.6L1082 122L1088 119L1094 115L1100 110L1106 105L1112 99L1117 94L1121.6 89.2" stroke="#800080" stroke-width="2.08" fill="none" stroke-linejoin="round" stroke-linecap="square"/><path d="M86.5 28.5H1171.5" stroke="#008000" stroke-opacity="0.7" stroke-width="1.39" stroke-dasharray="8.89 2.22 1.39 2.22" fill="none"/><path d="M86.5 259.5H1171.5" stroke="#ff0000" stroke-opacity="0.7" stroke-width="1.39" stroke-dasharray="8.89 2.22 1.39 2.22" fill="none"/><path d="M1121.7 471.5V10.5" stroke="#ff0000" stroke-opacity="0.7" stroke-width="1.39" stroke-dasharray="5.14 2.22" fill="none"/></g>
<rect x="86.5" y="10.5" width="1085.0" height="461.0" fill="none" stroke="#000" stroke-width="1.11"/>
<rect x="86.5" y="486.5" width="1085.0" height="154.0" fill="none" stroke="#000" stroke-width="1.11"/>
<path d="M213.5 471.5v4.86M213.5 640.5v4.86M391.5 471.5v4.86M391.5 640.5v4.86M569.5 471.5v4.86M569.5 640.5v4.86M748.5 471.5v4.86M748.5 640.5v4.86M926.5 471.5v4.86M926.5 640.5v4.86M1105.5 471.5v4.86M1105.5 640.5v4.86M86.5 419.5h-4.86M86.5 361.5h-4.86M86.5 304.5h-4.86M86.5 247.5h-4.86M86.5 190.5h-4.86M86.5 133.5h-4.86M86.5 76.5h-4.86M86.5 19.5h-4.86M86.5 640.5h-4.86M86.5 607.5h-4.86M86.5 573.5h-4.86M86.5 540.5h-4.86M86.5 507.5h-4.86" stroke="#000" stroke-width="1.11" fill="none"/>
<g transform="translate(52.4,424)" fill="#000" font-family='"Liberation Sans", sans-serif'><text x="0" y="0" transform="translate(0,0) scale(1.0004,0.89)" font-size="13.9">300</text></g>
<g transform="translate(52.4,366)" fill="#000" font-family='"Liberation Sans", sans-serif'><text x="0" y="0" transform="translate(0,0) scale(1.0004,0.89)" font-size="13.9">350</text></g>
<g transform="translate(52.4,309)" fill="#000" font-family='"Liberation Sans", sans-serif'><text x="0" y="0" transform="translate(0,0) scale(1.0004,0.89)" font-size="13.9">400</text></g>
<g transform="translate(52.4,252)" fill="#000" font-family='"Liberation Sans", sans-serif'><text x="0" y="0" transform="translate(0,0) scale(1.0004,0.89)" font-size="13.9">450</text></g>
<g transform="translate(52.4,195)" fill="#000" font-family='"Liberation Sans", sans-serif'><text x="0" y="0" transform="translate(0,0) scale(1.0004,0.89)" font-size="13.9">500</text></g>
<g transform="translate(52.4,138)" fill="#000" font-family='"Liberation Sans", sans-serif'><text x="0" y="0" transform="translate(0,0) scale(1.0004,0.89)" font-size="13.9">550</text></g>
<g transform="translate(52.4,81)" fill="#000" font-family='"Liberation Sans", sans-serif'><text x="0" y="0" transform="translate(0,0) scale(1.0004,0.89)" font-size="13.9">600</text></g>
<g transform="translate(52.4,24)" fill="#000" font-family='"Liberation Sans", sans-serif'><text x="0" y="0" transform="translate(0,0) scale(1.0004,0.89)" font-size="13.9">650</text></g>
<g transform="translate(66.75,645)" fill="#000" font-family='"Liberation Sans", sans-serif'><text x="0" y="0" transform="translate(0,0) scale(1.1448,0.89)" font-size="13.9">0</text></g>
<g transform="translate(27,612)" fill="#000" font-family='"Liberation Sans", sans-serif'><text x="0" y="0" transform="translate(0,0) scale(1.0478,0.89)" font-size="13.9">100000</text></g>
<g transform="translate(27,578)" fill="#000" font-family='"Liberation Sans", sans-serif'><text x="0" y="0" transform="translate(0,0) scale(1.0478,0.89)" font-size="13.9">200000</text></g>
<g transform="translate(27,545)" fill="#000" font-family='"Liberation Sans", sans-serif'><text x="0" y="0" transform="translate(0,0) scale(1.0478,0.89)" font-size="13.9">300000</text></g>
<g transform="translate(27,512)" fill="#000" font-family='"Liberation Sans", sans-serif'><text x="0" y="0" transform="translate(0,0) scale(1.0478,0.89)" font-size="13.9">400000</text></g>
<g transform="translate(186.6,659.4)" fill="#000" font-family='"Liberation Sans", sans-serif'><text x="0" y="0" transform="translate(0,0) scale(1.0311,0.89)" font-size="13.9">2021-01</text></g>
<g transform="translate(364.6,659.4)" fill="#000" font-family='"Liberation Sans", sans-serif'><text x="0" y="0" transform="translate(0,0) scale(1.0311,0.89)" font-size="13.9">2022-01</text></g>
<g transform="translate(542.6,659.4)" fill="#000" font-family='"Liberation Sans", sans-serif'><text x="0" y="0" transform="translate(0,0) scale(1.0311,0.89)" font-size="13.9">2023-01</text></g>
<g transform="translate(721.6,659.4)" fill="#000" font-family='"Liberation Sans", sans-serif'><text x="0" y="0" transform="translate(0,0) scale(1.0311,0.89)" font-size="13.9">2024-01</text></g>
<g transform="translate(899.6,659.4)" fill="#000" font-family='"Liberation Sans", sans-serif'><text x="0" y="0" transform="translate(0,0) scale(1.0311,0.89)" font-size="13.9">2025-01</text></g>
<g transform="translate(1078.6,659.4)" fill="#000" font-family='"Liberation Sans", sans-serif'><text x="0" y="0" transform="translate(0,0) scale(1.0311,0.89)" font-size="13.9">2026-01</text></g>
<g transform="translate(18,565) rotate(-90) translate(-22.5,0)" fill="#000" font-family='"Liberation Sans", sans-serif'><text x="0" y="0" transform="translate(0,0) scale(0.9548,0.89)" font-size="13.9">Volume</text></g>
<rect x="93.6" y="17.3" width="108.3" height="118.9" rx="2.8" fill="#fff" fill-opacity="0.8" stroke="#ccc" stroke-opacity="0.8" stroke-width="1.11"/><path d="M96.8 26.7H127" stroke="#000" stroke-width="2.08" fill="none"/><path d="M96.8 46.9H127" stroke="#008000" stroke-width="2.08" fill="none"/><path d="M96.8 67.9H127" stroke="#ff0000" stroke-width="2.08" fill="none"/><path d="M96.8 87.1H127" stroke="#800080" stroke-width="2.08" fill="none"/><path d="M112.4 97L122.8 117.8H102z" fill="#008000"/><path d="M112.4 135.9L122.8 115.1H102z" fill="#ff0000"/><g transform="translate(138.5,31.7)" fill="#000" font-family='"Liberation Sans", sans-serif'><text x="0" y="0" transform="translate(0,0) scale(0.8976,0.88)" font-size="13.9">Close</text></g><g transform="translate(138,51.4)" fill="#000" font-family='"Liberation Sans", sans-serif'><text x="0" y="0" transform="translate(0,0) scale(0.9470,0.88)" font-size="13.9">MA50[</text><text x="38.04" y="0.56" font-size="13.9" font-family='"Liberation Sans", "Noto Sans CJK SC", sans-serif'>买</text><text x="0" y="0" transform="translate(51.94,0) scale(0.9470,0.88)" font-size="13.9">]</text></g><g transform="translate(138,72.3)" fill="#000" font-family='"Liberation Sans", sans-serif'><text x="0" y="0" transform="translate(0,0) scale(0.9470,0.88)" font-size="13.9">MA25[</text><text x="38.04" y="0.56" font-size="13.9" font-family='"Liberation Sans", "Noto Sans CJK SC", sans-serif'>卖</text><text x="0" y="0" transform="translate(51.94,0) scale(0.9470,0.88)" font-size="13.9">]</text></g><g transform="translate(138,92.3)" fill="#000" font-family='"Liberation Sans", sans-serif'><text x="0" y="0" transform="translate(0,0) scale(0.9423,0.88)" font-size="13.9">MA200</text></g><g transform="translate(138,109.6)" fill="#000" font-family='"Liberation Sans", sans-serif'><text x="0" y="0" transform="translate(0,0) scale(0.8141,0.88)" font-size="13.9">Buy</text></g><g transform="translate(138.5,128.3)" fill="#000" font-family='"Liberation Sans", sans-serif'><text x="0" y="0" transform="translate(0,0) scale(0.8974,0.88)" font-size="13.9">Sell</text></g>
<rect x="975.6" y="362" width="177.9" height="90.3" rx="4.2" fill="#fff" fill-opacity="0.85" stroke="#ff0000" stroke-width="1.2"/><g transform="translate(997.6,377.6)" fill="#ff0000" font-family='"Liberation Sans", sans-serif'><text x="0" y="0" transform="translate(0,0) scale(0.9342,0.91)" font-size="16.67">633.87 (-0.41 -0.06%)</text></g><g transform="translate(1040.7,394.5)" fill="#ff0000" font-family='"Liberation Sans", sans-serif'><text x="0" y="0" transform="translate(0,0) scale(0.9650,0.91)" font-size="16.67">439.34~641.78</text></g><g transform="translate(983.1,410.2)" fill="#ff0000" font-family='"Liberation Sans", sans-serif'><text x="0" y="0" transform="translate(0,0) scale(1.0196,0.91)" font-size="16.67">634.64/629.97/589.05</text></g><g transform="translate(1022,426.8)" fill="#ff0000" font-family='"Liberation Sans", sans-serif'><text x="0" y="0" transform="translate(0,0) scale(0.9626,0.91)" font-size="16.67">2026-02-04 05:00</text></g><g transform="translate(979.7,444.7)" fill="#ff0000" font-family='"Liberation Sans", sans-serif'><text x="0" y="0" transform="translate(0,0) scale(1.0419,0.91)" font-size="16.67">-0.25/</text><text x="44.41" y="0.62" font-size="15.6" font-family='"Liberation Sans", "Noto Sans CJK SC", sans-serif'>偏空</text><text x="0" y="0" transform="translate(75.61,0) scale(1.0419,0.91)" font-size="16.67">/+0.91/-0.07</text></g>
<g transform="translate(86.4,695.8)" fill="#000" font-family='"Liberation Sans", sans-serif'><text x="0" y="0" transform="translate(0,0) scale(0.8151,1.0)" font-size="16.67">VOO</text></g><g transform="translate(121.4,695.8)" fill="#000" font-family='"Liberation Sans", sans-serif'><text x="0" y="0.68" font-size="17" font-family='"Liberation Sans", "Noto Sans CJK SC", sans-serif'>交易次数</text></g><g transform="translate(190.6,695.8)" fill="#000" font-family='"Liberation Sans", sans-serif'><text x="0" y="0" transform="translate(0,0) scale(0.9334,1.0)" font-size="16.67">: 4</text></g><g transform="translate(86.4,717)" fill="#000" font-family='"Liberation Sans", sans-serif'><text x="0" y="0.67" font-size="16.67" font-family='"Liberation Sans", "Noto Sans CJK SC", sans-serif'>策略总收益率</text><text x="0" y="0" transform="translate(100.02,0) scale(1.0041,1.0)" font-size="16.67">: 125.62%</text></g><g transform="translate(86.4,736)" fill="#000" font-family='"Liberation Sans", sans-serif'><text x="0" y="0.67" font-size="16.67" font-family='"Liberation Sans", "Noto Sans CJK SC", sans-serif'>长期持有收益</text><text x="0" y="0" transform="translate(100.02,0) scale(1.0041,1.0)" font-size="16.67">: 122.12%</text></g><g transform="translate(86.4,756)" fill="#000" font-family='"Liberation Sans", sans-serif'><text x="0" y="0.65" font-size="16.3" font-family='"Liberation Sans", "Noto Sans CJK SC", sans-serif'>交易记录</text><text x="0" y="0" transform="translate(65.2,0) scale(0.9068,1.0)" font-size="16.67">:</text></g><g transform="translate(96.6,772.3)" fill="#000" font-family='"Liberation Sans", sans-serif'><text x="0" y="0" transform="translate(0,0) scale(0.9348,1.0)" font-size="16.67">Buy Date</text></g><g transform="translate(172.5,772.3)" fill="#000" font-family='"Liberation Sans", sans-serif'><text x="0" y="0" transform="translate(0,0) scale(0.9154,1.0)" font-size="16.67">Buy Price</text></g><g transform="translate(249,772.3)" fill="#000" font-family='"Liberation Sans", sans-serif'><text x="0" y="0" transform="translate(0,0) scale(0.9684,1.0)" font-size="16.67">Sell Date</text></g><g transform="translate(325.6,772.3)" fill="#000" font-family='"Liberation Sans", sans-serif'><text x="0" y="0" transform="translate(0,0) scale(0.9388,1.0)" font-size="16.67">Sell Price</text></g><g transform="translate(403.6,772.3)" fill="#000" font-family='"Liberation Sans", sans-serif'><text x="0" y="0" transform="translate(0,0) scale(0.9431,1.0)" font-size="16.67">Holding Days</text></g><g transform="translate(508.5,772.3)" fill="#000" font-family='"Liberation Sans", sans-serif'><text x="0" y="0" transform="translate(0,0) scale(0.9150,1.0)" font-size="16.67">Profit %</text></g><g transform="translate(86.6,789.9)" fill="#000" font-family='"Liberation Sans", sans-serif'><text x="0" y="0" transform="translate(0,0) scale(1.0355,1.0)" font-size="16.67">2020-10-06</text></g><g transform="translate(201.5,789.9)" fill="#000" font-family='"Liberation Sans", sans-serif'><text x="0" y="0" transform="translate(0,0) scale(1.0375,1.0)" font-size="16.67">285.37</text></g><g transform="translate(261.5,789.9)" fill="#000" font-family='"Liberation Sans", sans-serif'><text x="0" y="0" transform="translate(0,0) scale(1.0297,1.0)" font-size="16.67">2021-05-11</text></g><g transform="translate(380.8,789.9)" fill="#000" font-family='"Liberation Sans", sans-serif'><text x="0" y="0" transform="translate(0,0) scale(1.0473,1.0)" font-size="16.67">355.87</text></g><g transform="translate(490.7,789.9)" fill="#000" font-family='"Liberation Sans", sans-serif'><text x="0" y="0" transform="translate(0,0) scale(1.0211,1.0)" font-size="16.67">217</text></g><g transform="translate(546,789.9)" fill="#000" font-family='"Liberation Sans", sans-serif'><text x="0" y="0" transform="translate(0,0) scale(1.0356,1.0)" font-size="16.67">24.70</text></g><g transform="translate(86.6,807.2)" fill="#000" font-family='"Liberation Sans", sans-serif'><text x="0" y="0" transform="translate(0,0) scale(1.0355,1.0)" font-size="16.67">2021-06-18</text></g><g transform="translate(201.5,807.2)" fill="#000" font-family='"Liberation Sans", sans-serif'><text x="0" y="0" transform="translate(0,0) scale(1.0375,1.0)" font-size="16.67">357.77</text></g><g transform="translate(261.5,807.2)" fill="#000" font-family='"Liberation Sans", sans-serif'><text x="0" y="0" transform="translate(0,0) scale(1.0297,1.0)" font-size="16.67">2024-04-04</text></g><g transform="translate(380.8,807.2)" fill="#000" font-family='"Liberation Sans", sans-serif'><text x="0" y="0" transform="translate(0,0) scale(1.0473,1.0)" font-size="16.67">461.13</text></g><g transform="translate(485.9,807.2)" fill="#000" font-family='"Liberation Sans", sans-serif'><text x="0" y="0" transform="translate(0,0) scale(1.0247,1.0)" font-size="16.67">1021</text></g><g transform="translate(550.7,807.2)" fill="#000" font-family='"Liberation Sans", sans-serif'><text x="0" y="0" transform="translate(0,0) scale(1.0476,1.0)" font-size="16.67">28.89</text></g><g transform="translate(86.6,824.5)" fill="#000" font-family='"Liberation Sans", sans-serif'><text x="0" y="0" transform="translate(0,0) scale(1.0355,1.0)" font-size="16.67">2024-04-15</text></g><g transform="translate(201.5,824.5)" fill="#000" font-family='"Liberation Sans", sans-serif'><text x="0" y="0" transform="translate(0,0) scale(1.0375,1.0)" font-size="16.67">453.66</text></g><g transform="translate(261.5,824.5)" fill="#000" font-family='"Liberation Sans", sans-serif'><text x="0" y="0" transform="translate(0,0) scale(1.0297,1.0)" font-size="16.67">2025-02-21</text></g><g transform="translate(380.8,824.5)" fill="#000" font-family='"Liberation Sans", sans-serif'><text x="0" y="0" transform="translate(0,0) scale(1.0473,1.0)" font-size="16.67">544.68</text></g><g transform="translate(490.7,824.5)" fill="#000" font-family='"Liberation Sans", sans-serif'><text x="0" y="0" transform="translate(0,0) scale(1.0211,1.0)" font-size="16.67">312</text></g><g transform="translate(546,824.5)" fill="#000" font-family='"Liberation Sans", sans-serif'><text x="0" y="0" transform="translate(0,0) scale(1.0356,1.0)" font-size="16.67">20.06</text></g><g transform="translate(86.6,841.8)" fill="#000" font-family='"Liberation Sans", sans-serif'><text x="0" y="0" transform="translate(0,0) scale(1.0355,1.0)" font-size="16.67">2025-02-24</text></g><g transform="translate(201.5,841.8)" fill="#000" font-family='"Liberation Sans", sans-serif'><text x="0" y="0" transform="translate(0,0) scale(1.0375,1.0)" font-size="16.67">542.13</text></g><g transform="translate(261.5,841.8)" fill="#000" font-family='"Liberation Sans", sans-serif'><text x="0" y="0" transform="translate(0,0) scale(1.0297,1.0)" font-size="16.67">2026-02-04</text></g><g transform="translate(380.8,841.8)" fill="#000" font-family='"Liberation Sans", sans-serif'><text x="0" y="0" transform="translate(0,0) scale(1.0473,1.0)" font-size="16.67">633.87</text></g><g transform="translate(490.7,841.8)" fill="#000" font-family='"Liberation Sans", sans-serif'><text x="0" y="0" transform="translate(0,0) scale(1.0211,1.0)" font-size="16.67">345</text></g><g transform="translate(546,841.8)" fill="#000" font-family='"Liberation Sans", sans-serif'><text x="0" y="0" transform="translate(0,0) scale(1.0356,1.0)" font-size="16.67">16.92</text></g>
</svg></body></html>
